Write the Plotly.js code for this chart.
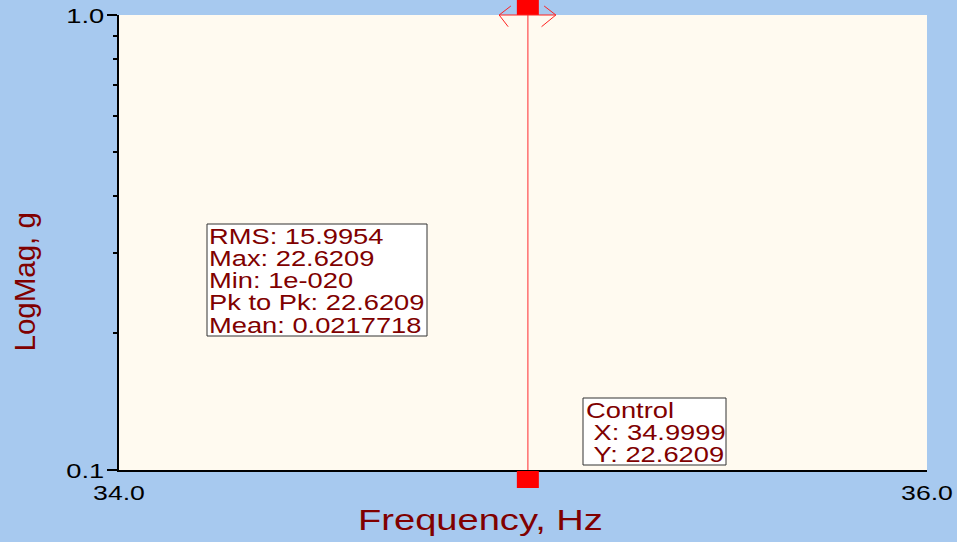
<!DOCTYPE html>
<html>
<head>
<meta charset="utf-8">
<script src="https://cdn.plot.ly/plotly-3.0.1.min.js"></script>
<style>html,body{margin:0;padding:0;background:#A7C9EF;}#chart{width:957px;height:542px;}</style>
</head>
<body>
<div id="chart"></div>
<script>
// ---- data ----
const xTickVals = [34.0, 36.0];
const xTickText = ['34.0', '36.0'];
const yTickVals = [0.1, 1.0];
const yTickText = ['0.1', '1.0'];
const yMinorTickVals = [0.2, 0.3, 0.4, 0.5, 0.6, 0.7, 0.8, 0.9];
const cursorLineX = 35.012;          // where the cursor line sits in the picture
const cursorY = [0.1, 1.0];          // cursor spans the full y range
const statLabels = ['RMS', 'Max', 'Min', 'Pk to Pk', 'Mean'];
const statValues = ['15.9954', '22.6209', '1e-020', '22.6209', '0.0217718'];
const controlTitle = 'Control';
const controlLabels = ['X', 'Y'];
const controlValues = ['34.9999', '22.6209'];
const xTitle = 'Frequency, Hz';
const yTitle = 'LogMag, g';

// ---- styling ----
const FONT = 'Liberation Sans, Arial, sans-serif';
const MAROON = '#800000';
const TICK_STRETCH = 1.3;
const ANN_STRETCH = 1.27;
const M = {l: 119, r: 30, t: 15, b: 72};
const W = 957, H = 542;
const PW = W - M.l - M.r, PH = H - M.t - M.b;
const px = v => (v - M.l) / PW;
const py = v => (H - M.b - v) / PH;

const annotations = [];
// y-axis tick labels (drawn as annotations so their offset can be set exactly)
yTickVals.forEach((v, i) => {
  annotations.push({
    xref: 'paper', yref: 'y', x: px(105), y: Math.log10(v), xanchor: 'right', yanchor: 'middle',
    align: 'right', showarrow: false, borderpad: 0, text: yTickText[i], isTick: true,
    font: {family: FONT, size: 21, color: '#000'}
  });
});
statLabels.forEach((lab, i) => {
  annotations.push({
    xref: 'paper', yref: 'paper', x: px(207.5), y: py(236.5 + i * 22.25),
    xanchor: 'left', yanchor: 'middle', align: 'left', showarrow: false, borderpad: 0,
    text: lab + ': ' + statValues[i], font: {family: FONT, size: 21.5, color: MAROON}
  });
});
const ctrlLines = [controlTitle].concat(controlLabels.map((l, i) => '\u00A0' + l + ': ' + controlValues[i]));
ctrlLines.forEach((t, i) => {
  annotations.push({
    xref: 'paper', yref: 'paper', x: px(584.5), y: py(411 + i * 22),
    xanchor: 'left', yanchor: 'middle', align: 'left', showarrow: false, borderpad: 0,
    text: t, font: {family: FONT, size: 21.5, color: MAROON}
  });
});
annotations.push({
  xref: 'paper', yref: 'paper', x: px(480), y: py(519.6), xanchor: 'center', yanchor: 'middle',
  showarrow: false, text: xTitle, font: {family: FONT, size: 30, color: MAROON}
});
annotations.push({
  xref: 'paper', yref: 'paper', x: px(24), y: py(282.5), xanchor: 'center', yanchor: 'middle',
  showarrow: false, textangle: -90, text: yTitle, font: {family: FONT, size: 29.5, color: MAROON}
});
annotations.forEach(a => { delete a.isTick; });

const shapes = [
  {type: 'rect', xref: 'paper', yref: 'paper', x0: px(207), x1: px(427), y0: py(336), y1: py(224),
   fillcolor: '#FFFFFF', line: {color: '#333333', width: 1}, layer: 'above'},
  {type: 'rect', xref: 'paper', yref: 'paper', x0: px(583), x1: px(726), y0: py(465), y1: py(398),
   fillcolor: '#FFFFFF', line: {color: '#333333', width: 1}, layer: 'above'},
  {type: 'rect', xref: 'x', yref: 'paper', xsizemode: 'pixel', xanchor: cursorLineX, x0: -11, x1: 11,
   ysizemode: 'pixel', yanchor: 1, y0: 0, y1: 17, fillcolor: '#FF0000', line: {width: 0}, layer: 'above'},
  {type: 'rect', xref: 'x', yref: 'paper', xsizemode: 'pixel', xanchor: cursorLineX, x0: -11, x1: 11,
   ysizemode: 'pixel', yanchor: 0, y0: -1, y1: -18, fillcolor: '#FF0000', line: {width: 0}, layer: 'above'},
  {type: 'path', xref: 'x', yref: 'paper', xsizemode: 'pixel', xanchor: cursorLineX,
   ysizemode: 'pixel', yanchor: 1,
   path: 'M -28.7,0 L -17,9 M -28.7,0 L -19.7,-11.7 M -28.7,0 L 28,0 M 28,0 L 16.3,9 M 28,0 L 13.7,-11.7',
   line: {color: '#FF2020', width: 1}, layer: 'above'}
];

const data = [{
  type: 'scatter', mode: 'lines', x: [cursorLineX, cursorLineX], y: cursorY,
  line: {color: 'rgb(255,110,110)', width: 1.5}, hoverinfo: 'skip', showlegend: false
}];

const layout = {
  width: W, height: H, margin: M,
  paper_bgcolor: '#A7C9EF', plot_bgcolor: '#FFFAF0',
  showlegend: false,
  xaxis: {
    range: [34, 36], tickmode: 'array', tickvals: xTickVals, ticktext: xTickText,
    ticks: '', showgrid: false, zeroline: false, showline: true, linecolor: '#000', linewidth: 2,
    tickfont: {family: FONT, size: 20.5, color: '#000'}, ticklabelstandoff: 3, fixedrange: true
  },
  yaxis: {
    type: 'log', range: [-1, 0], tickmode: 'array', tickvals: yTickVals, ticktext: yTickText,
    showticklabels: false,
    ticks: 'outside', ticklen: 10, tickwidth: 2, tickcolor: '#000',
    minor: {tickmode: 'array', tickvals: yMinorTickVals, ticks: 'outside', ticklen: 4, tickwidth: 2, tickcolor: '#000', showgrid: false},
    showgrid: false, zeroline: false, showline: true, linecolor: '#000', linewidth: 2, fixedrange: true
  },
  annotations: annotations,
  shapes: shapes
};

// widen horizontal text about its anchor point (keeps left / centre / right edge in place)
function stretchText(nodes, s) {
  nodes.forEach(t => {
    const tr = t.getAttribute('transform') || '';
    if (tr.indexOf('scale(') !== -1) return;
    let bb;
    try { bb = t.getBBox(); } catch (e) { return; }
    if (!bb || !bb.width) return;
    const anchor = t.getAttribute('text-anchor') || getComputedStyle(t).textAnchor || 'start';
    let ax = bb.x;
    if (anchor === 'middle') ax = bb.x + bb.width / 2;
    else if (anchor === 'end') ax = bb.x + bb.width;
    t.setAttribute('transform', (tr + ' translate(' + ax + ',0) scale(' + s + ',1) translate(' + (-ax) + ',0)').trim());
  });
}
function applyStretch(gd) {
  stretchText(gd.querySelectorAll('g.xtick > text'), TICK_STRETCH);
  const ann = Array.from(gd.querySelectorAll('text.annotation-text'));
  stretchText(ann.filter(t => yTickText.indexOf(t.textContent) !== -1), TICK_STRETCH);
  stretchText(ann.filter(t => t.textContent !== yTitle && yTickText.indexOf(t.textContent) === -1), ANN_STRETCH);
}

Plotly.newPlot('chart', data, layout, {displayModeBar: false, staticPlot: true}).then(gd => {
  applyStretch(gd);
  requestAnimationFrame(() => applyStretch(gd));
  [50, 200, 600, 1200].forEach(ms => setTimeout(() => applyStretch(gd), ms));
});
</script>
</body>
</html>
